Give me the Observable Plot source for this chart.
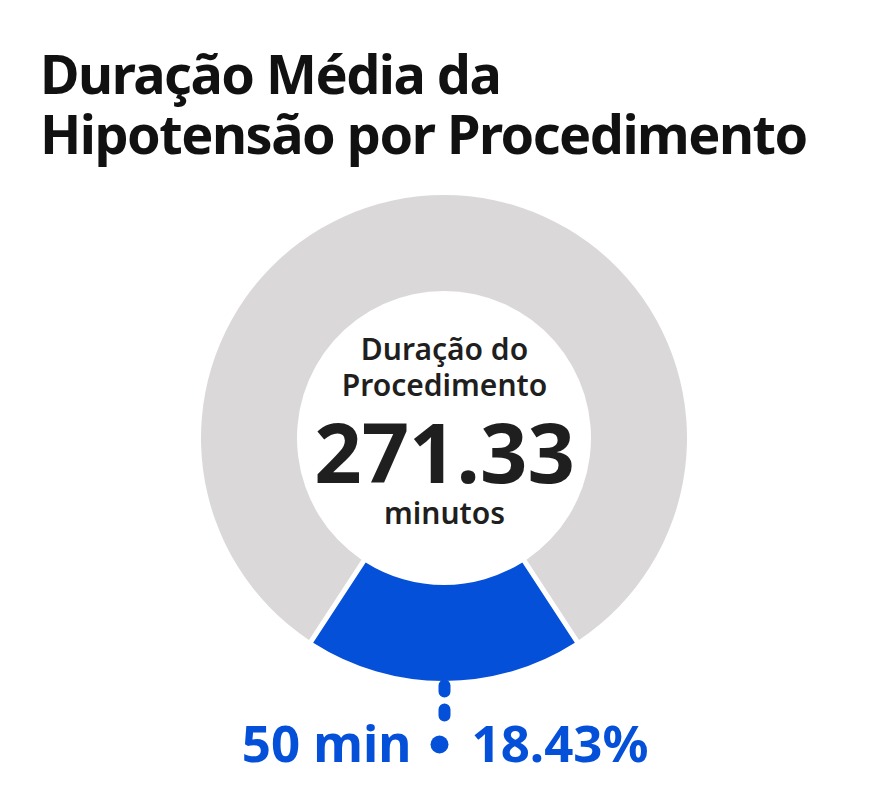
<!DOCTYPE html>
<html><head><meta charset="utf-8">
<script src="https://cdn.jsdelivr.net/npm/d3@7"></script>
<script src="https://cdn.jsdelivr.net/npm/@observablehq/plot@0.6"></script>
<style>
html,body{margin:0;padding:0;background:#fff;}
body{font-family:"Noto Sans",sans-serif;width:888px;height:808px;overflow:hidden;}
#title{font-weight:700;font-size:54px;line-height:60px;letter-spacing:-1.5px;color:#111;padding:43px 0 0 40px;margin:0;height:121px;white-space:nowrap;}
#chart svg{display:block;}
</style></head><body>
<div id="title">Duração Média da<br>Hipotensão por Procedimento</div>
<div id="chart"></div>
<script>
// ---- data ----
const segmentNames = ["Hipotensão", "Restante do procedimento"];
const hypotensionMinutes = 50;
const procedureMinutes = 271.33;
const hypotensionShare = 18.43; // %
const segmentColors = ["#0550d8", "#dbd8d9"];
const centerLabels = ["Duração do", "Procedimento"];
const centerValueLabel = "271.33";
const centerUnitLabel = "minutos";
const calloutMinutesLabel = "50 min";
const calloutShareLabel = "18.43%";

const segmentValues = [hypotensionMinutes, procedureMinutes - hypotensionMinutes];
const segments = segmentNames.map((name, i) => ({name, value: segmentValues[i], color: segmentColors[i]}));

// ---- layout ----
const W = 888, H = 644;
const CX = 444, CY = 274, R = 243, innerRatio = 147 / 243, gapPx = 5;
const blue = segmentColors[0];
const u = p => p / R; // pixels -> radius units

const donut = (index, scales) => {
  const cx = scales.x(0), cy = scales.y(0);
  const rOuter = scales.x(1) - scales.x(0);
  const rInner = rOuter * innerRatio;
  const hypAngle = 2 * Math.PI * segments[0].value / d3.sum(segments, d => d.value);
  const start = Math.PI - hypAngle / 2;
  const pie = d3.pie().sort(null).value(d => d.value).startAngle(start).endAngle(start + 2 * Math.PI);
  const arc = d3.arc().innerRadius(rInner).outerRadius(rOuter).padRadius(rOuter).padAngle(gapPx / rOuter);
  const g = d3.create("svg:g").attr("transform", `translate(${cx},${cy})`);
  g.selectAll("path").data(pie(segments)).join("path").attr("d", arc).attr("fill", d => d.data.color);
  return g.node();
};

const chart = Plot.plot({
  width: W, height: H, margin: 0,
  x: {domain: [-1, 1], range: [CX - R, CX + R], axis: null},
  y: {domain: [-1, 1], range: [CY - R, CY + R], axis: null},
  style: {fontFamily: "'Noto Sans', sans-serif", background: "#fff"},
  marks: [
    Plot.link([segments[0]], {x1: 0, x2: 0, y1: u(247), y2: u(278), stroke: blue, strokeWidth: 12, strokeLinecap: "round", strokeDasharray: "6,18"}),
    donut,
    Plot.text([centerLabels[0]], {x: 0, y: 0, text: d => d, fontSize: 30, fontWeight: 600, fill: "#1f1f1f", dy: -79 - 0.32 * 30}),
    Plot.text([centerLabels[1]], {x: 0, y: 0, text: d => d, fontSize: 30, fontWeight: 600, fill: "#1f1f1f", dy: -43 - 0.32 * 30}),
    Plot.text([centerValueLabel], {x: 0, y: 0, text: d => d, fontSize: 83, fontWeight: 700, fill: "#1f1f1f", dy: 44.6 - 0.32 * 83}),
    Plot.text([centerUnitLabel], {x: 0, y: 0, text: d => d, fontSize: 30, fontWeight: 600, fill: "#1f1f1f", dy: 85 - 0.32 * 30}),
    Plot.text([calloutMinutesLabel], {x: 0, y: 0, text: d => d, fontSize: 51, fontWeight: 700, fill: blue, textAnchor: "end", dx: -33, dy: 323 - 0.32 * 51}),
    Plot.dot([segments[0]], {x: 0, y: 0, r: 9, fill: blue, dx: -5, dy: 306}),
    Plot.text([calloutShareLabel], {x: 0, y: 0, text: d => d, fontSize: 51, fontWeight: 700, fill: blue, textAnchor: "start", dx: 27, dy: 323 - 0.32 * 51})
  ]
});
document.getElementById("chart").appendChild(chart);
</script>
</body></html>
